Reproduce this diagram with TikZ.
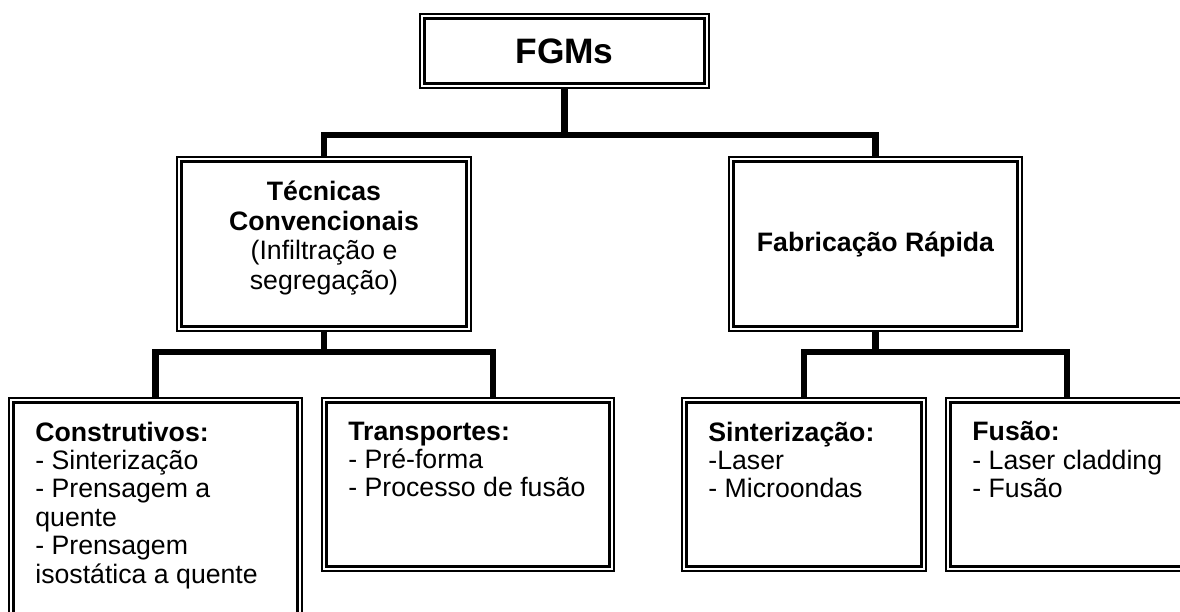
\documentclass[tikz,border=0pt]{standalone}
\usepackage{fontspec}
\setmainfont{Liberation Sans}
\usetikzlibrary{backgrounds}

\tikzset{every picture/.style={line width=0.75pt}}
\tikzset{
	dbox/.style={draw, double, line width=1.8pt, double distance=1.5pt, fill=white, inner sep=0pt},
	lbox/.style={dbox, inner xsep=18pt, inner ysep=16pt},
	link/.style={line width=4.6pt}}
\newcommand{\boxlines}[3]{\parbox[c][#2][t]{#1}{\raggedright #3}}
\newcommand{\midlines}[3]{\parbox[c][#2][t]{#1}{\centering #3}}

\begin{document}
\begin{tikzpicture}[x=0.75pt,y=0.75pt,yscale=-1,xscale=1,font=\fontsize{20}{21.3}\selectfont]
	\useasboundingbox (0,0) rectangle (1180,611);
	\clip (0,0) rectangle (1180,611);

	% top
	\node[dbox, minimum width=213.2pt, minimum height=51.9pt, font=\fontsize{26.5}{28}\selectfont\bfseries] (fgm) at (564.5,51) {FGMs};
	% second row
	\node[lbox, font=\fontsize{20}{22.3}\selectfont] (tec) at (324,244)
		{\midlines{180.9pt}{94.9pt}{\textbf{Técnicas}\\ \textbf{Convencionais}\\ (Infiltração e\\ segregação)}};
	\node[dbox, minimum width=216.15pt, minimum height=126.9pt, font=\fontsize{20}{22.3}\selectfont\bfseries] (fab) at (875.5,244) {Fabricação Rápida};
	% third row
	\node[lbox] (cons) at (155.5,518.5) {\boxlines{180.15pt}{145.15pt}{\textbf{Construtivos:}\\ - Sinterização\\ - Prensagem a\\ quente\\ - Prensagem\\ isostática a quente}};
	\node[lbox] (tra) at (468,484.5) {\boxlines{179.4pt}{94.15pt}{\textbf{Transportes:}\\ - Pré-forma\\ - Processo de fusão}};
	\node[lbox] (sin) at (804,484.5) {\boxlines{143.4pt}{94.15pt}{\textbf{Sinterização:}\\ -Laser\\ - Microondas}};
	\node[lbox] (fus) at (1092.5,484.5) {\boxlines{180.15pt}{94.15pt}{\textbf{Fusão:}\\ - Laser cladding\\ - Fusão}};

	% connectors
	\coordinate (bustop) at (564.5,135);
	\coordinate (busl) at (324,352);
	\coordinate (busr) at (875.5,352);
	\begin{scope}[on background layer]
		\draw[link] (fgm.south) -- (bustop);
		\draw[link] (tec.north) |- (bustop) -| (fab.north);
		\draw[link] (tec.south) -- (busl);
		\draw[link] (cons.north) |- (busl) -| ([xshift=18.75pt]tra.north);
		\draw[link] (fab.south) -- (busr);
		\draw[link] (sin.north) |- (busr) -| ([xshift=-19pt]fus.north);
	\end{scope}
\end{tikzpicture}
\end{document}
